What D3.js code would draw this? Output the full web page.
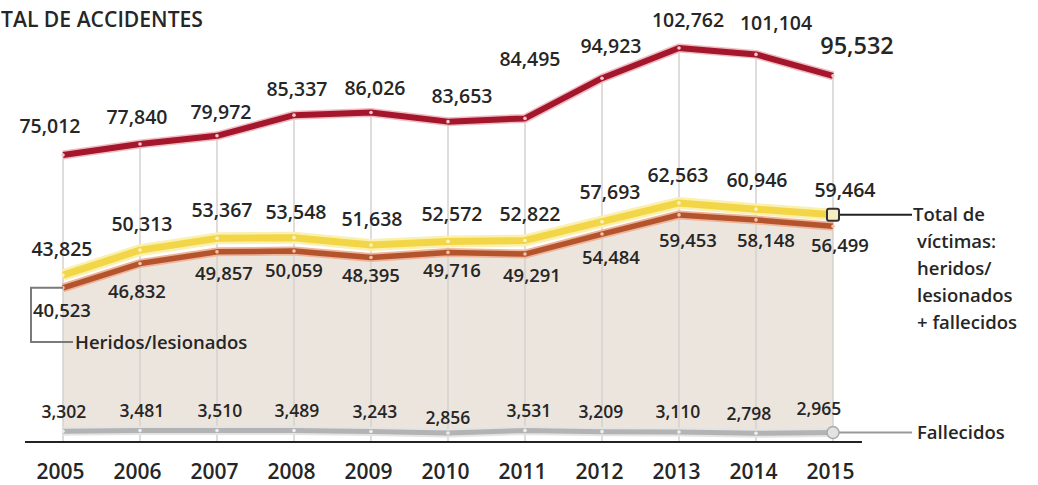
<!DOCTYPE html>
<html>
<head>
<meta charset="utf-8">
<script src="https://cdn.jsdelivr.net/npm/d3@7"></script>
<style>
  body { margin: 0; background: #fff; }
  svg { display: block; font-family: 'Open Sans', sans-serif; }
</style>
</head>
<body>
<div id="root"></div>
<script>
const width = 1038;
const height = 485;

const years = [2005, 2006, 2007, 2008, 2009, 2010, 2011, 2012, 2013, 2014, 2015];
const accidentes = [75012, 77840, 79972, 85337, 86026, 83653, 84495, 94923, 102762, 101104, 95532];
const victimas = [43825, 50313, 53367, 53548, 51638, 52572, 52822, 57693, 62563, 60946, 59464];
const heridos = [40523, 46832, 49857, 50059, 48395, 49716, 49291, 54484, 59453, 58148, 56499];
const fallecidos = [3302, 3481, 3510, 3489, 3243, 2856, 3531, 3209, 3110, 2798, 2965];

// label nudges [dx, dy] from each point
const accNudge = [[-13, -29], [-3, -27], [4, -24], [3, -26], [4, -25], [14, -26], [5, -59], [9, -32], [9, -28], [20, -31], [24, -30]];
const vicNudge = [[-1, -26], [2, -26], [5, -28], [2, -26], [1, -26], [4, -27], [5, -26], [8, -30], [-1, -28], [1, -29], [12, -25]];
const herNudge = [[-1, 22], [-3, 28], [7, 21], [0, 19], [0, 18], [4, 18], [7, 21], [9, 23], [9, 25], [10, 20], [7, 19]];
const falNudge = [[1, -20], [2, -20], [3, -20], [3, -20], [4, -20], [0, -15], [4, -20], [-1, -20], [-1, -20], [-7, -20], [-14, -24]];

const fmt = d3.format(',');
const textColor = '#262626';

const svg = d3
  .select('#root')
  .append('svg')
  .attr('width', width)
  .attr('height', height);

// Scales

const x = d3.scalePoint().domain(years).range([63, 833]);
const y = d3.scaleLinear().domain([0, 102762]).range([444, 48]);

// Beige area between heridos and fallecidos

const area = d3
  .area()
  .x((d, i) => x(years[i]))
  .y0((d, i) => y(fallecidos[i]))
  .y1((d) => y(d));

svg.append('path').datum(heridos).attr('d', area).attr('fill', '#ece5dd');

// Vertical guides

svg
  .append('g')
  .selectAll('line')
  .data(years)
  .join('line')
  .attr('x1', (d) => x(d))
  .attr('x2', (d) => x(d))
  .attr('y1', (d, i) => y(accidentes[i]))
  .attr('y2', y(0) - 2)
  .attr('stroke', '#d4d0cc')
  .attr('stroke-width', 1.5);

// Baseline

svg
  .append('line')
  .attr('x1', x(2005) - 38)
  .attr('x2', x(2015) + 29)
  .attr('y1', y(0) - 2)
  .attr('y2', y(0) - 2)
  .attr('stroke', '#222')
  .attr('stroke-width', 2);

// Lines

const line = d3
  .line()
  .x((d, i) => x(years[i]))
  .y((d) => y(d));

function drawSeries(values, halo, haloW, core, coreW, dot) {
  svg
    .append('path')
    .datum(values)
    .attr('d', line)
    .attr('fill', 'none')
    .attr('stroke', halo)
    .attr('stroke-width', haloW)
    .attr('stroke-linejoin', 'round');
  svg
    .append('path')
    .datum(values)
    .attr('d', line)
    .attr('fill', 'none')
    .attr('stroke', core)
    .attr('stroke-width', coreW)
    .attr('stroke-linejoin', 'round');
  svg
    .append('g')
    .selectAll('circle')
    .data(values)
    .join('circle')
    .attr('cx', (d, i) => x(years[i]))
    .attr('cy', (d) => y(d))
    .attr('r', 1.8)
    .attr('fill', dot);
}

drawSeries(fallecidos, '#e4e4e4', 9, '#b3b3b3', 5, '#eeeeee');
drawSeries(heridos, '#efb49c', 9, '#b3542c', 5.5, '#f3c2a8');
drawSeries(victimas, '#faf0b0', 12, '#f2d648', 7, '#fbf3c8');
drawSeries(accidentes, '#f0bcc2', 9, '#a3162b', 6, '#f6c9cd');

// Value labels

function drawLabels(values, nudge, size) {
  svg
    .append('g')
    .selectAll('text')
    .data(values)
    .join('text')
    .attr('x', (d, i) => x(years[i]) + nudge[i][0])
    .attr('y', (d, i) => y(d) + nudge[i][1])
    .attr('dy', '0.36em')
    .attr('text-anchor', 'middle')
    .attr('font-size', (d, i) => (typeof size === 'function' ? size(i) : size))
    .attr('font-weight', 600)
    .attr('fill', textColor)
    .text((d) => fmt(d));
}

drawLabels(accidentes, accNudge, (i) => (i === 10 ? 23.5 : 19.5));
drawLabels(victimas, vicNudge, 19.5);
drawLabels(heridos, herNudge, 18.5);
drawLabels(fallecidos, falNudge, 17.5);

// Year axis

const xAxis = d3.axisBottom(x).tickSize(0).tickPadding(0);

const axisG = svg
  .append('g')
  .attr('transform', `translate(-3, ${y(0) + 20})`)
  .call(xAxis);

axisG.select('.domain').remove();
axisG
  .selectAll('text')
  .attr('font-family', "'Open Sans', sans-serif")
  .attr('font-size', 21)
  .attr('font-weight', 600)
  .attr('fill', textColor);

// Title

svg
  .append('text')
  .attr('x', 1)
  .attr('y', 27)
  .attr('font-size', 21)
  .attr('font-weight', 600)
  .attr('fill', textColor)
  .attr('textLength', 202)
  .attr('lengthAdjust', 'spacingAndGlyphs')
  .text('TAL DE ACCIDENTES');

// Annotation: Heridos/lesionados

svg
  .append('path')
  .attr('d', `M${x(2005)},${y(heridos[0])}H31V342H73`)
  .attr('fill', 'none')
  .attr('stroke', '#7a7a7a')
  .attr('stroke-width', 2);

svg
  .append('text')
  .attr('x', 75)
  .attr('y', 342)
  .attr('dy', '0.36em')
  .attr('font-size', 18.5)
  .attr('font-weight', 600)
  .attr('fill', textColor)
  .text('Heridos/lesionados');

// Annotation: Total de victimas

const vy = y(victimas[10]);

svg
  .append('line')
  .attr('x1', x(2015))
  .attr('x2', 912)
  .attr('y1', vy)
  .attr('y2', vy)
  .attr('stroke', '#222')
  .attr('stroke-width', 2);

svg
  .append('rect')
  .attr('x', x(2015) - 6)
  .attr('y', vy - 6)
  .attr('width', 12)
  .attr('height', 12)
  .attr('rx', 2)
  .attr('fill', '#f7efbf')
  .attr('stroke', '#333')
  .attr('stroke-width', 2);

const noteLines = ['Total de', 'víctimas:', 'heridos/', 'lesionados', '+ fallecidos'];

svg
  .append('g')
  .selectAll('text')
  .data(noteLines)
  .join('text')
  .attr('x', (d, i) => (i === 0 ? 913 : 917))
  .attr('y', (d, i) => vy - 1 + i * 27)
  .attr('dy', '0.36em')
  .attr('font-size', 18.5)
  .attr('font-weight', 600)
  .attr('fill', textColor)
  .text((d) => d);

// Annotation: Fallecidos

const fy = y(fallecidos[10]);

svg
  .append('line')
  .attr('x1', x(2015))
  .attr('x2', 912)
  .attr('y1', fy)
  .attr('y2', fy)
  .attr('stroke', '#999')
  .attr('stroke-width', 2);

svg
  .append('circle')
  .attr('cx', x(2015))
  .attr('cy', fy)
  .attr('r', 6)
  .attr('fill', '#e2e2e2')
  .attr('stroke', '#aaa')
  .attr('stroke-width', 1.5);

svg
  .append('text')
  .attr('x', 917)
  .attr('y', fy)
  .attr('dy', '0.36em')
  .attr('font-size', 18.5)
  .attr('font-weight', 600)
  .attr('fill', textColor)
  .text('Fallecidos');
</script>
</body>
</html>
